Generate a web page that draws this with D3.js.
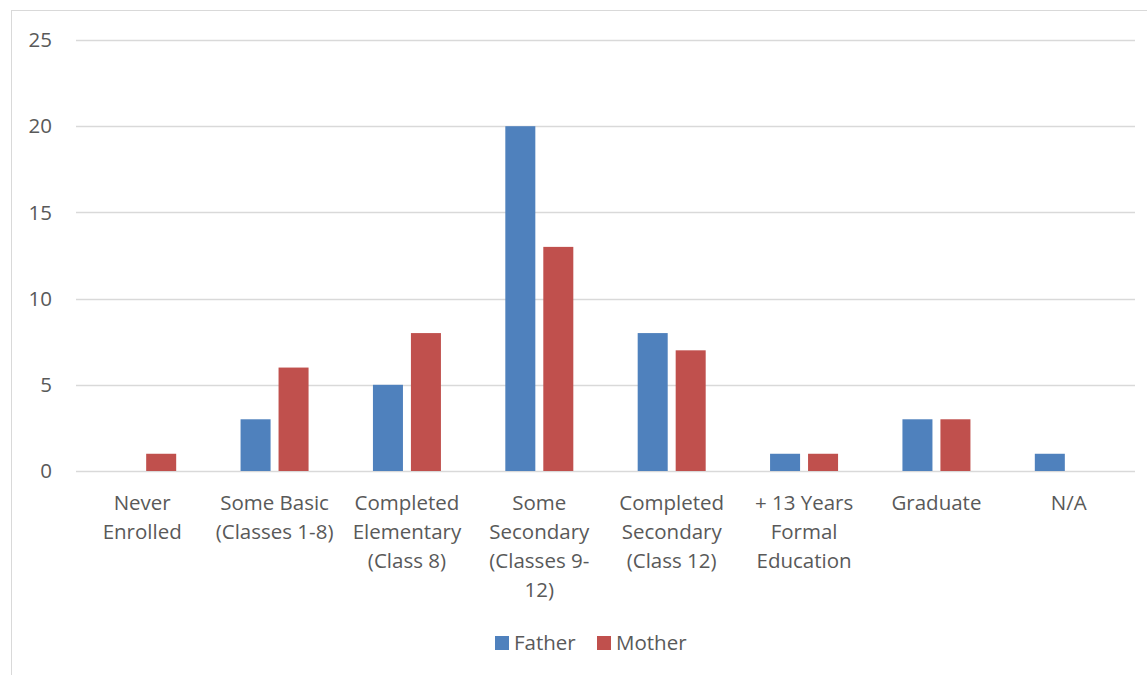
<!DOCTYPE html>
<html><head><meta charset="utf-8">
<script src="https://cdn.jsdelivr.net/npm/d3@7"></script>
<style>body{margin:0;background:#fff;} svg{display:block;}</style>
</head><body>
<svg id="c" width="1147" height="675"></svg>
<script>
const categories = ["Never Enrolled","Some Basic (Classes 1-8)","Completed Elementary (Class 8)","Some Secondary (Classes 9-12)","Completed Secondary (Class 12)","+ 13 Years Formal Education","Graduate","N/A"];
const categoryLines = [["Never","Enrolled"],["Some Basic","(Classes 1-8)"],["Completed","Elementary","(Class 8)"],["Some","Secondary","(Classes 9-","12)"],["Completed","Secondary","(Class 12)"],["+ 13 Years","Formal","Education"],["Graduate"],["N/A"]];
const seriesNames = ["Father","Mother"];
const father = [0,3,5,20,8,1,3,1];
const mother = [1,6,8,13,7,1,3,0];
const yTicks = [0,5,10,15,20,25];
const colors = ["#4F81BD","#C0504D"];

(function(){
const svg = d3.select("#c");
const font = "'Open Sans', Calibri, sans-serif";
const textColor = "#595959";
const fs = 20.5;
svg.append("rect").attr("x",11.5).attr("y",10.5).attr("width",1145).attr("height",680)
  .attr("fill","none").attr("stroke","#d9d9d9").attr("stroke-width",1);

const pL=76, pR=1135, pT=40, pB=471;
const x = d3.scaleBand().domain(categories).range([pL,pR]);
const y = d3.scaleLinear().domain([0,25]).range([pB,pT]);

svg.append("g").selectAll("line").data(yTicks).join("line")
  .attr("x1",pL).attr("x2",pR).attr("y1",d=>Math.round(y(d))+0.5).attr("y2",d=>Math.round(y(d))+0.5)
  .attr("stroke","#d9d9d9").attr("stroke-width",1.5);
svg.append("g").selectAll("text").data(yTicks).join("text")
  .attr("x",52).attr("y",d=>y(d)).attr("dy","0.35em").attr("text-anchor","end")
  .attr("font-family",font).attr("font-size",fs).attr("fill",textColor).text(d=>d);

const inner = d3.scaleBand().domain(seriesNames).range([-34,34]).paddingInner(0.21);
const data = [father, mother];
seriesNames.forEach((s,si)=>{
  svg.append("g").selectAll("rect").data(categories.map((c,i)=>({c,v:data[si][i]})).filter(d=>d.v>0)).join("rect")
    .attr("x",d=>x(d.c)+x.bandwidth()/2+inner(s)).attr("width",inner.bandwidth())
    .attr("y",d=>y(d.v)).attr("height",d=>y(0)-y(d.v)).attr("fill",colors[si]);
});

const cl = svg.append("g");
categories.forEach((c,i)=>{
  const t = cl.append("text").attr("text-anchor","middle").attr("font-family",font).attr("font-size",fs).attr("fill",textColor);
  categoryLines[i].forEach((ln,j)=>{
    t.append("tspan").attr("x",x(c)+x.bandwidth()/2).attr("y",510+j*29).text(ln);
  });
});

const lg = svg.append("g");
const legX = [495, 597];
seriesNames.forEach((s,i)=>{
  lg.append("rect").attr("x",legX[i]).attr("y",636).attr("width",14).attr("height",14).attr("fill",colors[i]);
  lg.append("text").attr("x",legX[i]+19).attr("y",650).attr("font-family",font).attr("font-size",fs).attr("fill",textColor).text(s);
});
})();
</script>
</body></html>
